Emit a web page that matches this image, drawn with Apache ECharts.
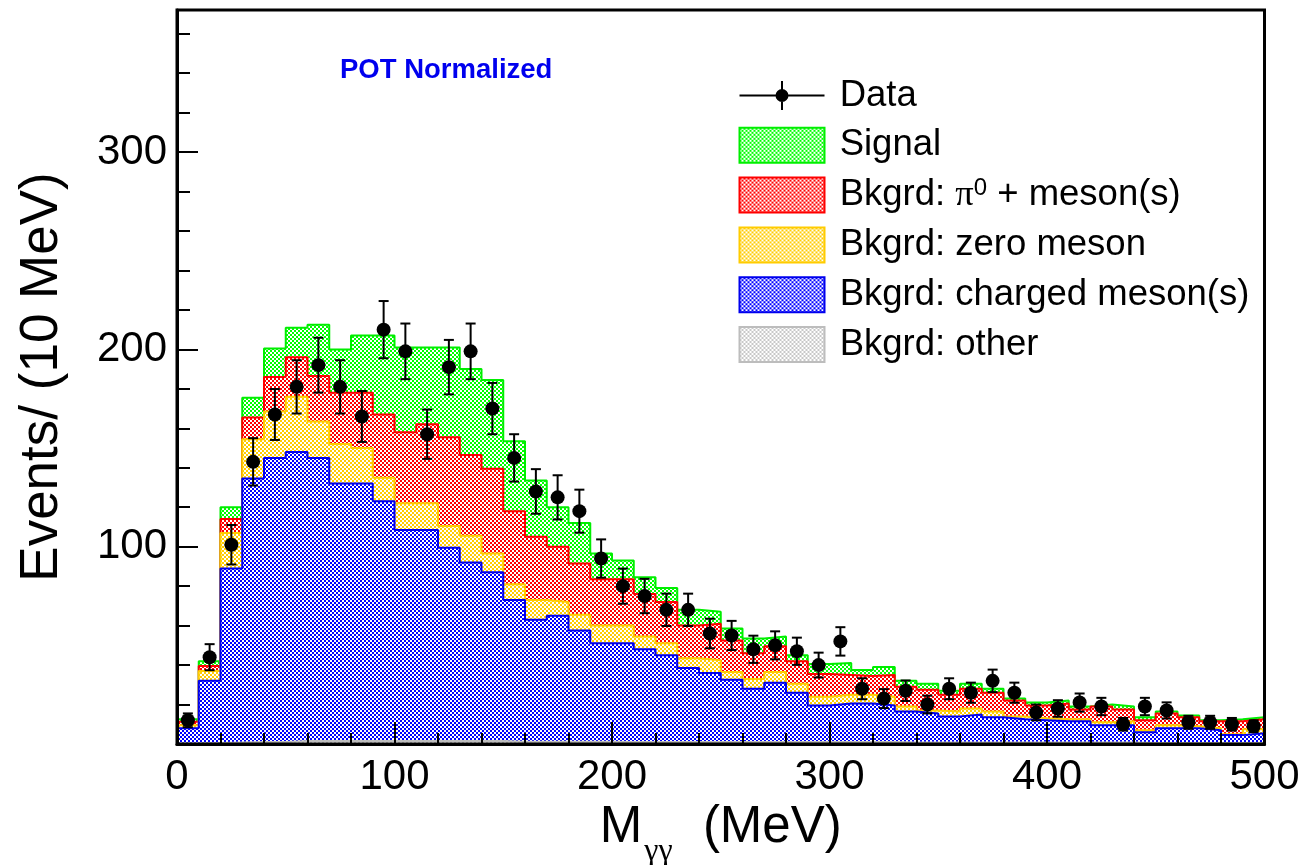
<!DOCTYPE html>
<html><head><meta charset="utf-8">
<script src="https://cdn.jsdelivr.net/npm/echarts@6/dist/echarts.min.js"></script>
<style>html,body{margin:0;padding:0;background:#fff}#c{width:1307px;height:865px}</style>
</head><body><div id="c"></div>
<script>
// ---- data ----
const binLow = [0,10,20,30,40,50,60,70,80,90,100,110,120,130,140,150,160,170,180,190,200,210,220,230,240,250,260,270,280,290,300,310,320,330,340,350,360,370,380,390,400,410,420,430,440,450,460,470,480,490];
const binHigh = 500;
const xTickLabels = [0,100,200,300,400,500];
const yTickLabels = [100,200,300];
const otherBkg   = [0.3,0.5,0.8,1,1,1.5,1.5,1.5,1.5,1.5,1.5,1.5,1.5,1.5,1.5,1.2,1.2,1.2,1.2,1.2,1,1,1,1,1,1,1,1,1,1,1,1,1,0.8,0.8,0.8,0.8,0.8,0.8,0.8,0.8,0.8,0.8,0.8,0.5,0.5,0.5,0.5,0.5,0.5];
const chargedBkg = [7.7,31.5,88.2,133.5,144,146.5,143.5,130.5,130.5,121.5,107,107,98,90.5,85.5,71.8,61.8,63.8,56.3,49.8,50,47,44,37.5,35,31.5,27,30,25,18.5,19.5,19.5,18.5,15.7,14.7,13.2,14.2,12.7,11.7,11.2,10.7,10.7,8.7,8.7,5.5,7.5,7.5,6.5,4,5];
const zeroBkg    = [1.5,5,18,20,23.5,28,18.5,20,18,12,13.5,13.5,11,13.5,9.5,8,10,7,8,9,9,6.5,6,5,6.5,4,5,5.5,4.5,4.5,4.5,4.5,4.5,2.5,1.5,2.5,3,3,1.5,1,1,1,1.5,2,1,1.5,1,1,0.5,2];
const pi0Bkg     = [1.8,2.5,7,11,17.5,20,23,26,28,32,36,40,45,41,43,37,32,28,26,23.5,23.5,21.5,21,16.5,18.5,16,13,13,11.5,11.5,10,9.5,11,10,10.5,8.5,10,9.5,8,6.5,8,5,8,6,5,6,4.5,3.5,6.5,5];
const signal     = [1.2,2.5,6,10,14.5,15,26,22,29,40,43,39,45.5,43.5,45,35.5,28.5,20,20.5,13,9.5,8.5,7,8,6,6,7.5,5,3,5,6,3,4,3,3,2,2.5,2,1,1.5,1.5,1.5,1,1.5,1.5,1,1,0.5,1,1];
const dataCounts = [12,44,101,143,167,181,192,181,166,210,199,157,191,199,170,145,128,125,118,94,80,75,68,68,56,55,48,50,47,40,52,28,23,27,20,28,26,32,26,16,18,21,19,10,19,17,11,11,10,9];
const dataErr    = [3.5,6.6,10,12,12.9,13.5,13.9,13.5,12.9,14.5,14.1,12.5,13.8,14.1,13,12,11.3,11.2,10.9,9.7,8.9,8.7,8.2,8.2,7.5,7.4,6.9,7.1,6.9,6.3,7.2,5.3,4.8,5.2,4.5,5.3,5.1,5.7,5.1,4,4.2,4.6,4.4,3.2,4.4,4.1,3.3,3.3,3.2,3];
const legendNames = ['Data','Signal','Bkgrd: \u03c0\u2070 + meson(s)','Bkgrd: zero meson','Bkgrd: charged meson(s)','Bkgrd: other'];

// ---- styling ----
const FONT = "'Liberation Sans', Arial, Helvetica, sans-serif";
const SERIF = "'Liberation Serif', 'DejaVu Serif', serif";
function pattern(col){
  const c = document.createElement('canvas'); c.width = 4; c.height = 4;
  const g = c.getContext('2d');
  g.fillStyle = '#ffffff'; g.fillRect(0,0,4,4);
  g.fillStyle = col; g.fillRect(0,0,2,2); g.fillRect(2,2,2,2);
  return {image: c, repeat: 'repeat'};
}
// stack order from bottom to top
const comps = [
  {name: 'Bkgrd: other', vals: otherBkg, col: '#c8c8c8', line: '#bdbdbd'},
  {name: 'Bkgrd: charged meson(s)', vals: chargedBkg, col: '#0000ff', line: '#0000ee'},
  {name: 'Bkgrd: zero meson', vals: zeroBkg, col: '#ffcc00', line: '#ffcc00'},
  {name: 'Bkgrd: \u03c0\u2070 + meson(s)', vals: pi0Bkg, col: '#ff0000', line: '#ff0000'},
  {name: 'Signal', vals: signal, col: '#00ff00', line: '#00ee00'}
];
// cumulative tops (the stacked histogram), top-most component drawn underneath
let run = binLow.map(() => 0);
comps.forEach(c => { run = run.map((v, i) => v + c.vals[i]); c.top = run.slice(); c.pat = pattern(c.col); });

const series = comps.map((c, k) => ({
  name: c.name, type: 'line', step: 'end', symbol: 'none', showSymbol: false,
  data: binLow.map((x, i) => [x, c.top[i]]).concat([[binHigh, c.top[c.top.length - 1]]]),
  lineStyle: {color: c.line, width: 2},
  itemStyle: {color: c.col},
  areaStyle: {color: c.pat, opacity: 1, origin: 'start'},
  z: 10 - k, silent: true
}));

series.push({
  name: 'Data', type: 'custom', z: 20,
  itemStyle: {color: '#000'},
  encode: {x: 0, y: 1},
  data: binLow.map((x, i) => [x + 5, dataCounts[i], dataErr[i]]),
  renderItem: function(params, api){
    const x = api.value(0), y = api.value(1), e = api.value(2);
    const c = api.coord([x, y]), t = api.coord([x, y + e]), b = api.coord([x, y - e]);
    const st = {stroke: '#000', lineWidth: 2};
    return {type: 'group', children: [
      {type: 'line', shape: {x1: c[0], y1: t[1], x2: c[0], y2: b[1]}, style: st},
      {type: 'line', shape: {x1: c[0] - 5, y1: t[1], x2: c[0] + 5, y2: t[1]}, style: st},
      {type: 'line', shape: {x1: c[0] - 5, y1: b[1], x2: c[0] + 5, y2: b[1]}, style: st},
      {type: 'circle', shape: {cx: c[0], cy: c[1], r: 7}, style: {fill: '#000'}}
    ]};
  }
});

const dataIcon = 'path://M0,0h0.1v0.1h-0.1z M84.9,34.9h0.1v0.1h-0.1z M0,16.5h85v2h-85z M41.5,3h2v29h-2z M49,17.5a6.5,6.5 0 1 1 -13,0a6.5,6.5 0 1 1 13,0z';
const legendData = legendNames.map(n => {
  if (n === 'Data') return {name: n, icon: dataIcon, itemStyle: {color: '#000', borderWidth: 0}};
  const c = comps.find(q => q.name === n);
  return {name: n, icon: 'rect', itemStyle: {color: c.pat, borderColor: c.line, borderWidth: 2}};
});

const axisCol = '#000';
const option = {
  animation: false,
  backgroundColor: '#fff',
  title: {text: 'POT Normalized', left: 340, top: 56.5, padding: 0,
    textStyle: {fontSize: 27.5, fontWeight: 'bold', color: '#0000ee', fontFamily: FONT}},
  grid: {left: 177, right: 42.5, top: 10, bottom: 121, show: true, z: 40, borderColor: '#000', borderWidth: 3,
    backgroundColor: 'transparent', containLabel: false, outerBoundsMode: 'none'},
  legend: {
    show: true, orient: 'vertical', left: 738.5, top: 77, itemWidth: 85, itemHeight: 35, itemGap: 12.8,
    selectedMode: false, padding: 0, z: 30,
    textStyle: {fontSize: 36.5, color: '#000', fontFamily: FONT,
      rich: {
        a: {fontSize: 36.5, color: '#000', fontFamily: FONT},
        p: {fontSize: 36.5, color: '#000', fontFamily: SERIF},
        s: {fontSize: 24, color: '#000', fontFamily: FONT, verticalAlign: 'top'},
        b: {fontSize: 36.5, color: '#000', fontFamily: FONT}
      }},
    formatter: function(name){
      if (name.indexOf('\u03c0') >= 0) return '{a| Bkgrd: }{p|\u03c0}{s|0}{b| + meson(s)}';
      return '{a| ' + name + '}';
    },
    data: legendData
  },
  xAxis: [{
    type: 'value', min: 0, max: 500, interval: 100, z: 45,
    name: '{m|M}{g|\u03b3\u03b3}{m|  (MeV)}', nameLocation: 'middle', nameGap: 57,
    nameTextStyle: {fontFamily: FONT, color: '#000', rich: {
      m: {fontSize: 51, fontFamily: FONT, color: '#000', lineHeight: 54, verticalAlign: 'top'},
      g: {fontSize: 32, fontFamily: SERIF, color: '#000', lineHeight: 32, verticalAlign: 'top', padding: [33, 2, 0, 2]}
    }},
    axisLine: {show: true, onZero: false, lineStyle: {color: axisCol, width: 3}},
    axisTick: {show: true, inside: true, length: 22, lineStyle: {color: axisCol, width: 2}},
    minorTick: {show: true, splitNumber: 5, length: 11, lineStyle: {color: axisCol, width: 2}},
    axisLabel: {fontSize: 42, color: '#000', fontFamily: FONT, margin: 12,
      formatter: v => (xTickLabels.indexOf(v) >= 0 ? String(v) : '')},
    splitLine: {show: false}, minorSplitLine: {show: false}
  }],
  yAxis: [{
    type: 'value', min: 0, max: 372, interval: 100, z: 45,
    name: 'Events/ (10 MeV)', nameLocation: 'middle', nameGap: 108,
    nameTextStyle: {fontSize: 53, color: '#000', fontFamily: FONT},
    axisLine: {show: true, onZero: false, lineStyle: {color: axisCol, width: 3}},
    axisTick: {show: true, inside: true, length: 21, lineStyle: {color: axisCol, width: 2}},
    axisLabel: {fontSize: 42, color: '#000', fontFamily: FONT, margin: 10,
      formatter: v => (yTickLabels.indexOf(v) >= 0 ? String(v) : '')},
    splitLine: {show: false}
  }, {
    type: 'value', min: 0, max: 372, interval: 20, position: 'left', z: 45,
    axisLine: {show: false},
    axisTick: {show: true, inside: true, length: 13, lineStyle: {color: axisCol, width: 2}},
    axisLabel: {show: false}, splitLine: {show: false}
  }],
  series: series
};
const chart = echarts.init(document.getElementById('c'), null, {renderer: 'canvas'});
chart.setOption(option);
</script></body></html>
